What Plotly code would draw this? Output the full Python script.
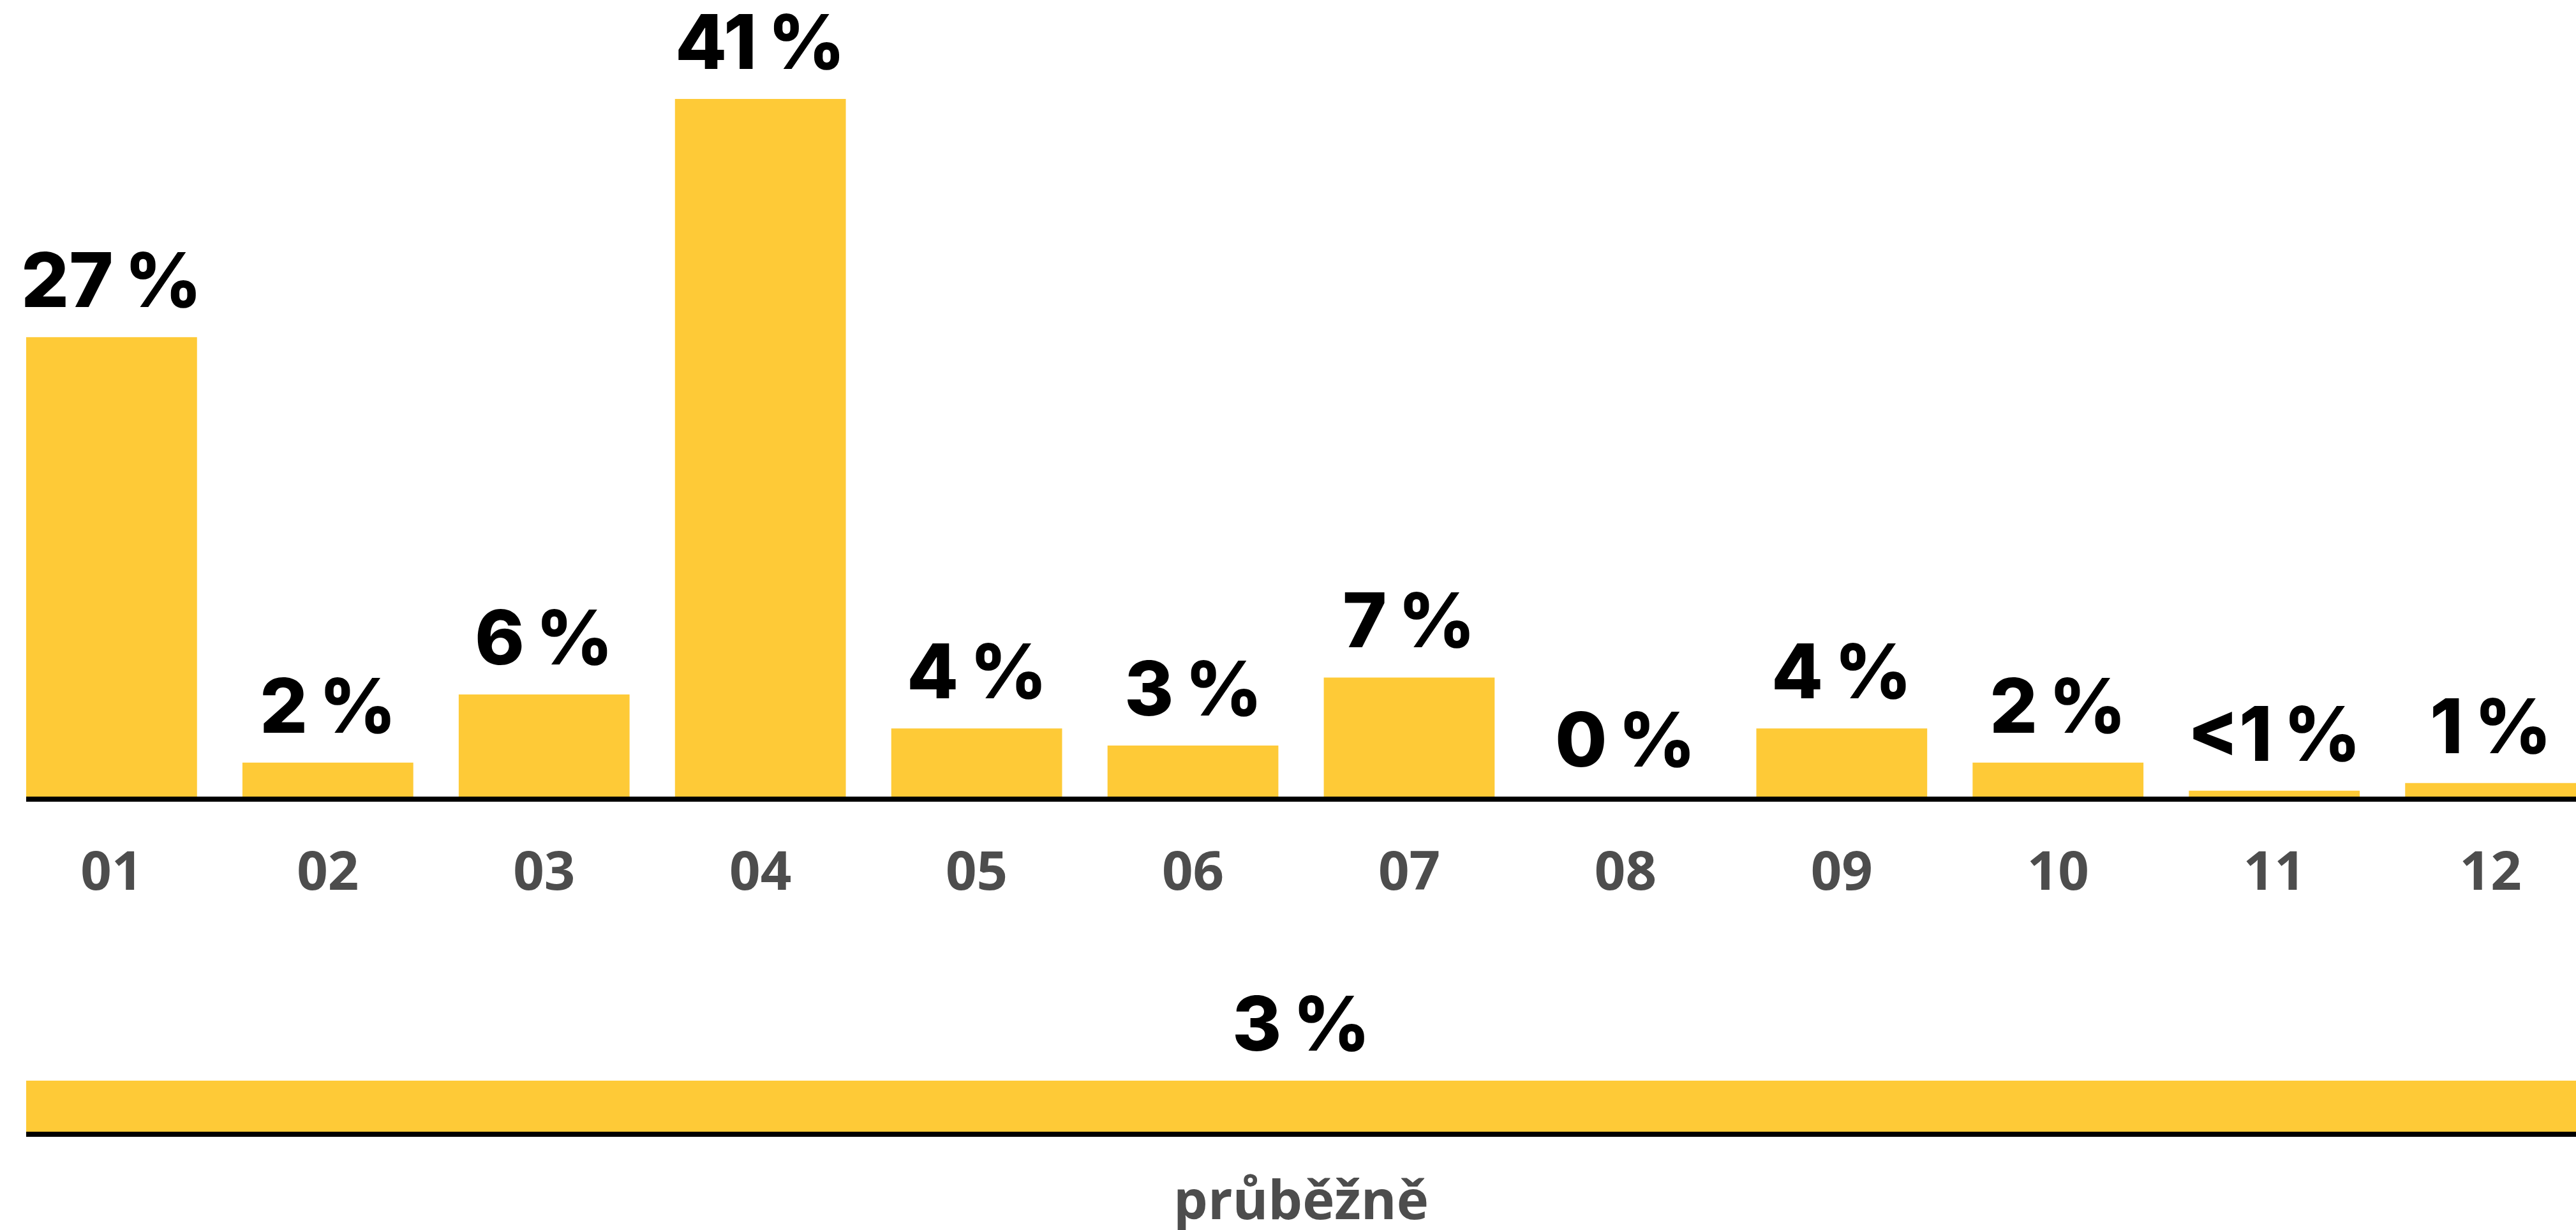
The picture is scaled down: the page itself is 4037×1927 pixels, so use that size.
import plotly.graph_objects as go

# ---- data ----
months = ["01", "02", "03", "04", "05", "06", "07", "08", "09", "10", "11", "12"]
month_values = [27, 2, 6, 41, 4, 3, 7, 0, 4, 2, 0.35, 0.8]
month_labels = ["27\u2009%", "2\u2009%", "6\u2009%", "41\u2009%", "4\u2009%", "3\u2009%",
                "7\u2009%", "0\u2009%", "4\u2009%", "2\u2009%", "<1\u2009%", "1\u2009%"]
ongoing_category = ["průběžně"]
ongoing_values = [3]
ongoing_labels = ["3\u2009%"]

BAR = "#FECA37"
TICK = "#4D4D4D"
W, H = 4037, 1927
PX_PER_PCT = 26.66

top_bottom_px = 1248
bot_bottom_px = 1773
bot_top_px = 1480

fig = go.Figure()
fig.add_trace(go.Bar(x=months, y=month_values, marker=dict(color=BAR, line=dict(width=0)),
                     xaxis="x", yaxis="y", hoverinfo="skip"))
fig.add_trace(go.Bar(x=ongoing_category, y=ongoing_values, marker=dict(color=BAR, line=dict(width=0)),
                     xaxis="x2", yaxis="y2", width=[1.0], hoverinfo="skip"))

label_font = dict(family="Inter", size=118, color="#000000", weight=800)
for i, (v, t) in enumerate(zip(month_values, month_labels)):
    fig.add_annotation(x=i, y=v, xref="x", yref="y", text=t, showarrow=False,
                       yanchor="bottom", yshift=17, font=label_font)
for i, (v, t) in enumerate(zip(ongoing_values, ongoing_labels)):
    fig.add_annotation(x=i, y=v, xref="x2", yref="y2", text=t, showarrow=False,
                       yanchor="bottom", yshift=17, font=label_font)

tickfont = dict(family="Open Sans", size=85, color=TICK, weight=700)
fig.update_layout(
    width=W, height=H,
    margin=dict(l=41, r=0, t=0, b=0, pad=0),
    paper_bgcolor="white", plot_bgcolor="white",
    showlegend=False, bargap=0.21,
    xaxis=dict(domain=[0, 1], range=[-0.395, 11.395], type="category",
               showline=True, linecolor="black", linewidth=8, showgrid=False,
               ticks="", tickfont=tickfont, ticklabelstandoff=36, automargin=False,
               fixedrange=True),
    yaxis=dict(domain=[(H - top_bottom_px) / H, 1], range=[0, top_bottom_px / PX_PER_PCT],
               visible=False, automargin=False, fixedrange=True),
    xaxis2=dict(domain=[0, 1], range=[-0.5, 0.5], type="category", anchor="y2",
                showline=True, linecolor="black", linewidth=8, showgrid=False,
                ticks="", tickfont=tickfont, ticklabelstandoff=27, automargin=False,
                fixedrange=True),
    yaxis2=dict(domain=[(H - bot_bottom_px) / H, (H - bot_top_px) / H],
                range=[0, (bot_bottom_px - bot_top_px) / PX_PER_PCT], anchor="x2",
                visible=False, automargin=False, fixedrange=True),
)

fig.write_html(
    "out.html",
    config={"displayModeBar": False},
    post_script="document.body.style.margin='0';document.body.style.overflow='hidden';",
)
